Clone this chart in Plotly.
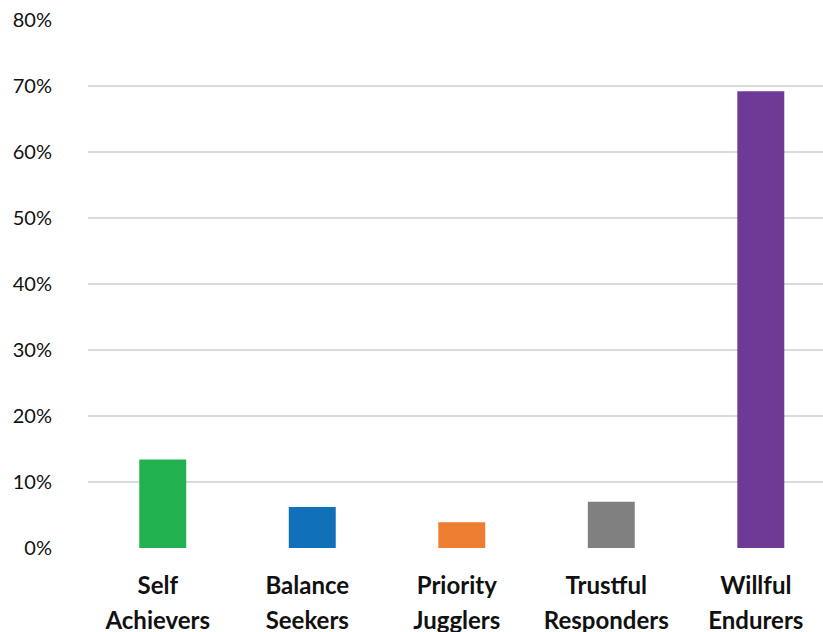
import plotly.graph_objects as go

label_line1 = ["Self", "Balance", "Priority", "Trustful", "Willful"]
label_line2 = ["Achievers", "Seekers", "Jugglers", "Responders", "Endurers"]
values = [13.4, 6.2, 3.9, 7.0, 69.2]
colors = ["#21B14F", "#1170BA", "#ED7D31", "#808080", "#6F3996"]
y_ticks = [0, 10, 20, 30, 40, 50, 60, 70, 80]
y_tick_labels = [f"{v}%" for v in y_ticks]

span = '<span style="font-size:24px">{}</span>'
tick_text = [f"<b>{span.format(a)}</b><br><b>{span.format(b)}</b>"
             for a, b in zip(label_line1, label_line2)]

fig = go.Figure(go.Bar(
    x=list(range(len(values))),
    y=values,
    marker=dict(color=colors, line=dict(width=0)),
    width=0.314,
))

fig.update_layout(
    width=823, height=632,
    margin=dict(l=88, r=0, t=20, b=84, autoexpand=False),
    paper_bgcolor="white", plot_bgcolor="white",
    showlegend=False,
    font=dict(family="Lato", color="#111111"),
    xaxis=dict(
        range=[-0.5, 4.416],
        tickmode="array",
        tickvals=list(range(len(values))),
        ticktext=tick_text,
        tickfont=dict(size=27, color="#111111", family="Lato"),
        showgrid=False, zeroline=False, showline=False, ticks="",
        ticklabelstandoff=18,
        ticklabelshift=-5,
        automargin=False,
    ),
    yaxis=dict(
        range=[0, 80],
        tickmode="array",
        tickvals=y_ticks,
        ticktext=y_tick_labels,
        tickfont=dict(size=20, color="#111111", family="Lato"),
        showgrid=True, gridcolor="#D9D9D9", gridwidth=1.5,
        zeroline=False, showline=False, ticks="",
        ticklabelstandoff=35,
        automargin=False,
    ),
)

fig.write_html("out.html")
